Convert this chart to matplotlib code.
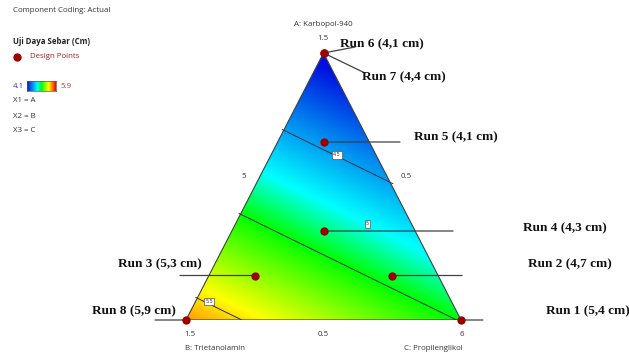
import matplotlib
matplotlib.use("Agg")
import matplotlib.pyplot as plt
import numpy as np
from matplotlib.colors import LinearSegmentedColormap
from matplotlib.patches import Polygon

# Design points in pseudo-components (A: Karbopol-940, B: Trietanolamin, C: Propilenglikol)
runs = ["Run 1", "Run 2", "Run 3", "Run 4", "Run 5", "Run 6", "Run 7", "Run 8"]
spread = ["5,4", "4,7", "5,3", "4,3", "4,1", "4,1", "4,4", "5,9"]
comp_a = [0.0, 1/6, 1/6, 1/3, 2/3, 1.0, 1.0, 0.0]
comp_b = [0.0, 1/6, 2/3, 1/3, 1/6, 0.0, 0.0, 1.0]
comp_c = [1.0, 2/3, 1/6, 1/3, 1/6, 0.0, 0.0, 0.0]

# Linear mixture model coefficients (A, B, C) and contour levels
coef = [4.04, 5.63, 4.99]
levels = [4.5, 5.0, 5.5]
level_labels = ["4.5", "5", "5.5"]
level_pos_a = [0.618, 0.36, 0.07]
level_pos_c = [0.24, 0.48, 0.05]
cmin, cmax = 4.1, 5.9

W, H = 629, 360
fig = plt.figure(figsize=(W / 100, H / 100), dpi=100)


def fpx(x, y):
    # pixel position (top-left origin) -> figure fraction
    return x / W, 1 - y / H


def tern(a, b, c):
    a, c = np.asarray(a), np.asarray(c)
    return c + a / 2, a


ax = fig.add_axes([186 / W, 40 / H, 275 / W, 267 / H])
ax.set_xlim(0, 1)
ax.set_ylim(0, 1)
ax.axis("off")

cmap = LinearSegmentedColormap.from_list(
    "de", [(0.0, "#0010e0"), (0.36, "#00ffff"), (0.5, "#00ff00"),
           (0.75, "#ffff00"), (1.0, "#ff0000")])

# response surface over the simplex
gx, gy = np.meshgrid(np.linspace(0, 1, 500), np.linspace(0, 1, 500))
ga = gy
gc = gx - gy / 2
gb = 1 - ga - gc
z = coef[0] * ga + coef[1] * gb + coef[2] * gc
tri = Polygon([[0, 0], [1, 0], [0.5, 1]], closed=True, facecolor="none",
              edgecolor="#404040", lw=0.8, zorder=3)
ax.add_patch(tri)
im = ax.imshow(z, extent=[0, 1, 0, 1], origin="lower", cmap=cmap,
               vmin=cmin, vmax=cmax, interpolation="bilinear", aspect="auto")
im.set_clip_path(tri)

zm = np.ma.masked_where((gb < -0.01) | (gc < -0.01), z)
cs = ax.contour(gx, gy, zm, levels=levels, colors="#203040", linewidths=0.7)
for lab, la, lc in zip(level_labels, level_pos_a, level_pos_c):
    lx, ly = tern(la, 1 - la - lc, lc)
    ax.text(lx, ly, lab, fontsize=3.5, ha="center", va="center", color="#333333",
            bbox=dict(boxstyle="square,pad=0.25", fc="white", ec="#555555", lw=0.5),
            zorder=5)

# design points
px_, py_ = tern(comp_a, comp_b, comp_c)
ax.plot(px_, py_, "o", color="#9b0000", markersize=5, zorder=6, clip_on=False)

# leader lines: x end in pixels, y end in pixels or None for a horizontal line
line_end = [(483, None), (462, None), (180, None), (453, None), (400, None),
            (355, 47), (365, 73), (155, None)]
text_pos = [(546, 311), (528, 264), (118, 264), (523, 228), (414, 137),
            (340, 44), (362, 77), (92, 311)]
for i, run in enumerate(runs):
    ex, ey = line_end[i]
    if ey is None:
        xytext, tcoords = (ex, py_[i]), ("figure pixels", "data")
    else:
        xytext, tcoords = (ex, H - ey), "figure pixels"
    ax.annotate("", xy=(px_[i], py_[i]), xycoords="data",
                xytext=xytext, textcoords=tcoords,
                arrowprops=dict(arrowstyle="-", color="#404040", lw=0.9,
                                shrinkA=0, shrinkB=0), zorder=4)
    tx, ty = text_pos[i]
    fig.text(*fpx(tx, ty), f"{run} ({spread[i]} cm)", fontsize=9.5,
             family="Liberation Serif", weight="bold", va="center", ha="left",
             color="#111111", zorder=7)

# legend block
ui = dict(family="Open Sans", color="#333333")
fs = 5.7
fig.text(*fpx(13, 11), "Component Coding: Actual", fontsize=fs, va="center", **ui)
fig.text(*fpx(13, 42), "Uji Daya Sebar (Cm)", fontsize=fs, va="center",
         weight="bold", family="Open Sans", color="#222222")
fig.add_artist(plt.Line2D([17 / W], [1 - 57 / H], marker="o", color="#9b0000",
                          markersize=5, transform=fig.transFigure))
fig.text(*fpx(30, 57), "Design Points", fontsize=fs, va="center",
         family="Open Sans", color="#a02020")
fig.text(*fpx(13, 86), f"{cmin}", fontsize=fs, va="center",
         family="Open Sans", color="#3030c0")
cax = fig.add_axes([27 / W, 1 - 91 / H, 29 / W, 10 / H])
cax.imshow(np.linspace(cmin, cmax, 100)[None, :], cmap=cmap, aspect="auto",
           vmin=cmin, vmax=cmax)
cax.set_xticks([])
cax.set_yticks([])
for s in cax.spines.values():
    s.set_color("#555555")
    s.set_linewidth(0.5)
fig.text(*fpx(60, 86), f"{cmax}", fontsize=fs, va="center",
         family="Open Sans", color="#c03030")
for j, t in enumerate(["X1 = A", "X2 = B", "X3 = C"]):
    fig.text(*fpx(13, 101 + 15 * j), t, fontsize=fs, va="center", **ui)

# axis titles and ticks
fig.text(*fpx(323, 24), "A: Karbopol-940", fontsize=fs, ha="center", va="center", **ui)
fig.text(*fpx(323, 39), "1.5", fontsize=fs, ha="center", va="center", **ui)
fig.text(*fpx(244, 176), "5", fontsize=fs, ha="center", va="center", **ui)
fig.text(*fpx(406, 176), "0.5", fontsize=fs, ha="center", va="center", **ui)
fig.text(*fpx(190, 334), "1.5", fontsize=fs, ha="center", va="center", **ui)
fig.text(*fpx(323, 334), "0.5", fontsize=fs, ha="center", va="center", **ui)
fig.text(*fpx(462, 334), "6", fontsize=fs, ha="center", va="center", **ui)
fig.text(*fpx(185, 349), "B: Trietanolamin", fontsize=fs, ha="left", va="center", **ui)
fig.text(*fpx(463, 349), "C: Propilenglikol", fontsize=fs, ha="right", va="center", **ui)

fig.savefig("out.png", dpi=100)
